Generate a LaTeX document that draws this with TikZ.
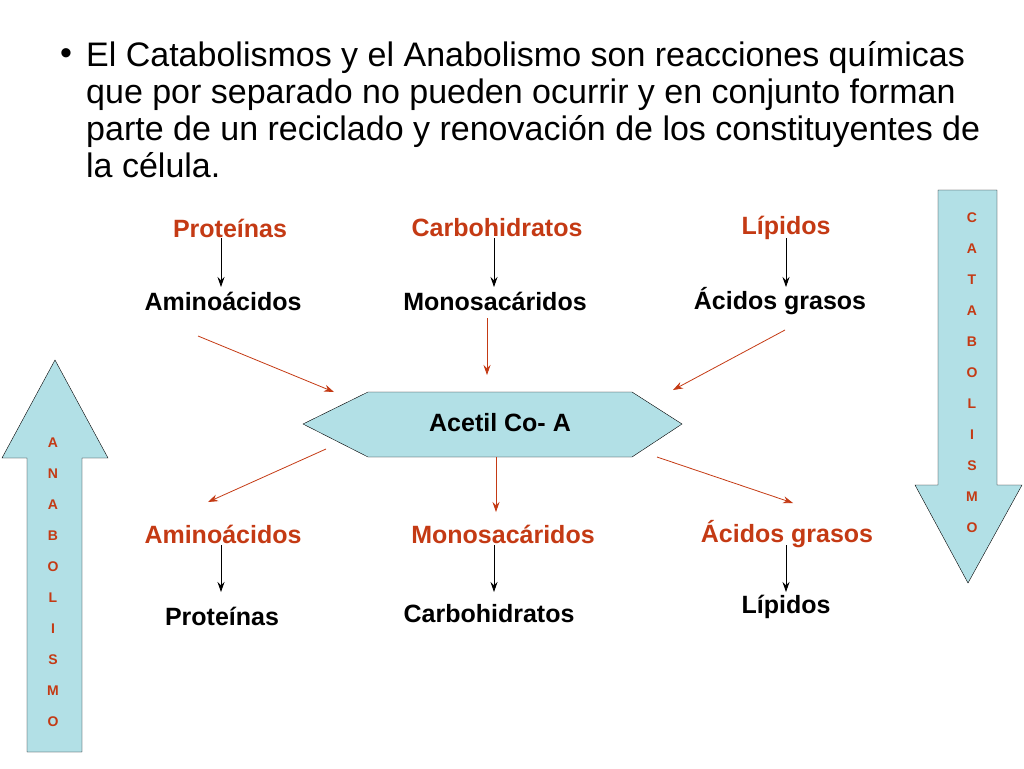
\documentclass[tikz,border=0pt]{standalone}
\usepackage{fontspec}
\setmainfont{Liberation Sans}
\usetikzlibrary{arrows.meta}
\definecolor{rd}{RGB}{196,58,20}
\definecolor{cy}{RGB}{178,224,230}
\begin{document}
\begin{tikzpicture}[x=1pt,y=-1pt,
 lab/.style={font=\fontsize{25}{25}\selectfont\bfseries},
 rlab/.style={lab,text=rd},
 blk/.style={-{Stealth[length=10pt,width=7pt]},thick},
 red/.style={-{Stealth[length=10pt,width=7pt]},thick,draw=rd},
 letter/.style={font=\fontsize{14}{14}\selectfont\bfseries,text=rd}]
\useasboundingbox (0,0) rectangle (1024,768);
\node[font=\fontsize{34}{37}\selectfont] (bul) at (66,57) {•};
\node[anchor=north west,align=left,inner sep=0,font=\fontsize{34}{37}\selectfont] (title) at (86,41)
 {El Catabolismos y el Anabolismo son reacciones químicas\\que por separado no pueden ocurrir y en conjunto forman\\parte de un reciclado y renovación de los constituyentes de\\la célula.};
% top row
\node[rlab] (p1) at (230,228) {Proteínas};
\node[rlab] (c1) at (497,228) {Carbohidratos};
\node[rlab] (l1) at (786,228) {Lípidos};
\node[lab] (a1) at (223,301) {Aminoácidos};
\node[lab] (m1) at (495,301) {Monosacáridos};
\node[lab] (g1) at (780,301) {Ácidos grasos};
\draw[blk] (221,238) coordinate (s1) -- (221,287) coordinate (e1);
\draw[blk] (494,238) coordinate (s2) -- (494,287) coordinate (e2);
\draw[blk] (786,238) coordinate (s3) -- (786,287) coordinate (e3);
% hexagon
\draw[fill=cy] (303,424) -- (368,392) -- (632,392) -- (682,424) -- (632,457) -- (368,457) -- cycle;
\node[lab] (acetil) at (500,423) {Acetil Co- A};
\draw[red] (198,336) -- (334,392);
\draw[red] (487,318) -- (487,375);
\draw[red] (785,330) -- (673,390);
\draw[red] (326,449) -- (208,502);
\draw[red] (496,457) -- (496,512);
\draw[red] (657,457) -- (793,503);
% bottom
\node[rlab] (a2) at (223,534) {Aminoácidos};
\node[rlab] (m2) at (503,534) {Monosacáridos};
\node[rlab] (g2) at (787,534) {Ácidos grasos};
\node[lab] (p2) at (222,616) {Proteínas};
\node[lab] (c2) at (489,614) {Carbohidratos};
\node[lab] (l2) at (786,607) {Lípidos};
\draw[blk] (221,545) -- (221,592);
\draw[blk] (494,545) -- (494,592);
\draw[blk] (786,545) -- (786,592);
% side arrows
\draw[fill=cy] (938,190) -- (997,190) -- (997,485) -- (1022,485) -- (968,583) -- (915,485) -- (938,485) -- cycle;
\draw[fill=cy] (27,752) -- (82,752) -- (82,458) -- (108,458) -- (55,360) -- (2,458) -- (27,458) -- cycle;
\foreach \t [count=\i] in {C,A,T,A,B,O,L,I,S,M,O}
  \node[letter] (cat\i) at (972,{218+(\i-1)*31}) {\t};
\foreach \t [count=\i] in {A,N,A,B,O,L,I,S,M,O}
  \node[letter] (ana\i) at (53,{443+(\i-1)*31}) {\t};
\end{tikzpicture}
\end{document}
